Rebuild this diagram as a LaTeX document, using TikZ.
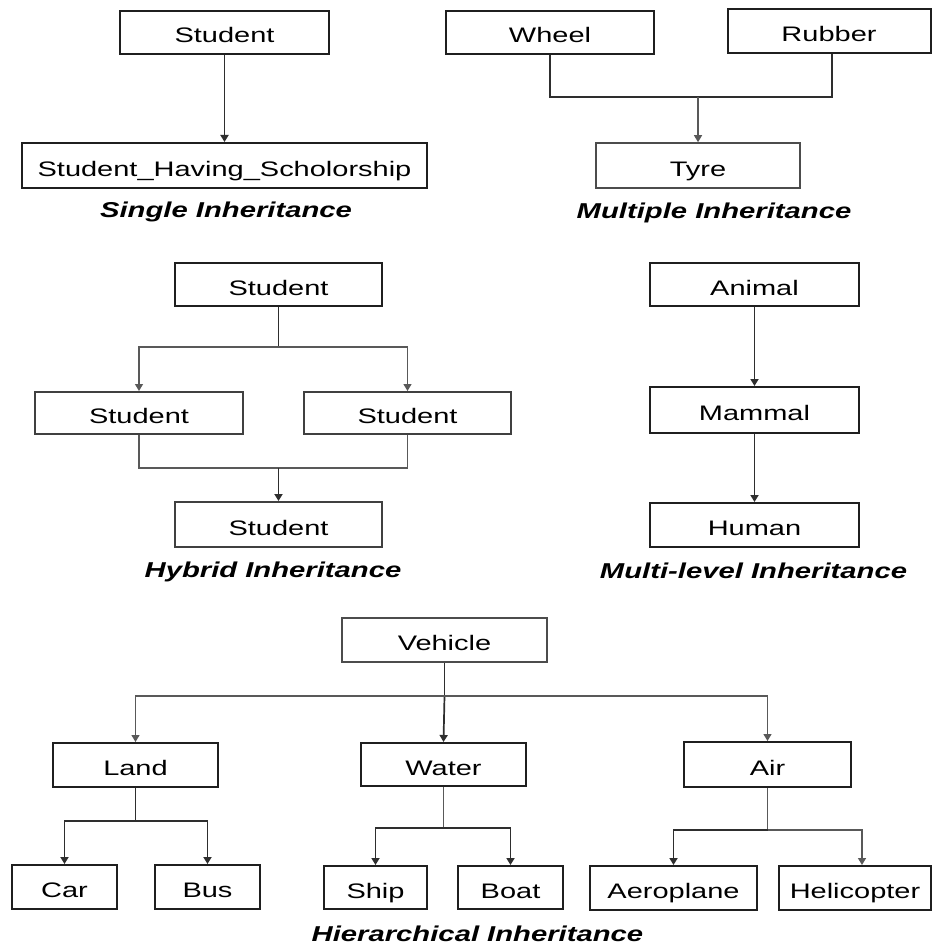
\documentclass[tikz,border=0pt]{standalone}
\usepackage{fontspec}
\usetikzlibrary{arrows.meta,calc}
\newfontfamily\boxfont[FakeStretch=1.38]{Liberation Sans}
\newfontfamily\capfont[FakeStretch=1.36,BoldItalicFont={Liberation Sans Bold Italic}]{Liberation Sans}
\begin{document}
\begin{tikzpicture}[x=1pt,y=-1pt,
  cls/.style={draw=black!88,line width=2pt,inner sep=0pt,
    minimum height=44pt,text height=21pt,text depth=0pt,
    font=\boxfont\fontsize{21}{24}\selectfont},
  caption/.style={anchor=base,inner sep=0pt,
    font=\capfont\fontsize{21.5}{24}\selectfont\bfseries\itshape},
  link/.style={draw=black!82,line width=1.7pt},
  thin link/.style={draw=black!65,line width=1.3pt},
  arr/.style={-{Triangle[width=8pt,length=7pt]}}]
\useasboundingbox (0,0) rectangle (932,944);
\fill[white] (0,0) rectangle (932,944);

% --- single inheritance
\node[cls,minimum width=209pt,minimum height=43pt] (sBase) at (224.5,32.5) {Student};
\node[cls,minimum width=405pt,minimum height=45pt] (sDer) at (224.5,165.5) {Student\_Having\_Scholorship};
\draw[link,arr] (sBase.south) -- (sDer.north);
\node[caption] (capSingle) at (226,217) {Single Inheritance};

% --- multiple inheritance
\node[cls,minimum width=208pt,minimum height=43pt] (wheel) at (550,32.5) {Wheel};
\node[cls,minimum width=203pt,minimum height=44pt] (rubber) at (829,31) {Rubber};
\node[cls,draw=black!70,line width=1.6pt,minimum width=204pt,minimum height=45pt] (tyre) at (698,165.5) {Tyre};
\coordinate (mJoin) at (698,97);
\draw[link] (wheel.south) |- (mJoin) -| ([xshift=3pt]rubber.south);
\draw[thin link,arr] (mJoin) -- (tyre.north);
\node[caption] (capMultiple) at (714,218) {Multiple Inheritance};

% --- hybrid inheritance
\node[cls,minimum width=207pt,minimum height=43pt] (hTop) at (278.5,284.5) {Student};
\node[cls,draw=black!75,minimum width=208pt,minimum height=42pt] (hLeft) at (139,413) {Student};
\node[cls,draw=black!75,minimum width=207pt,minimum height=42pt] (hRight) at (407.5,413) {Student};
\node[cls,draw=black!75,minimum width=207pt,minimum height=45pt] (hBottom) at (278.5,524.5) {Student};
\coordinate (hSplit) at (278.5,347);
\coordinate (hMerge) at (278.5,468);
\draw[link] (hTop.south) -- (hSplit);
\draw[thin link,arr] (hSplit) -| (hLeft.north);
\draw[thin link,arr] (hSplit) -| (hRight.north);
\draw[thin link] (hLeft.south) |- (hMerge) -| (hRight.south);
\draw[link,arr] (hMerge) -- (hBottom.north);
\node[caption] (capHybrid) at (273,577) {Hybrid Inheritance};

% --- multi-level inheritance
\node[cls,minimum width=209pt,minimum height=43pt] (animal) at (754.5,284.5) {Animal};
\node[cls,minimum width=209pt,minimum height=46pt] (mammal) at (754.5,410) {Mammal};
\node[cls,minimum width=209pt,minimum height=44pt] (human) at (754.5,525) {Human};
\draw[link,arr] (animal.south) -- (mammal.north);
\draw[link,arr] (mammal.south) -- (human.north);
\node[caption] (capMulti) at (753.5,578) {Multi-level Inheritance};

% --- hierarchical inheritance
\node[cls,draw=black!70,line width=1.6pt,minimum width=205pt,minimum height=44pt] (vehicle) at (444.5,640) {Vehicle};
\node[cls,minimum width=165pt,minimum height=44pt] (land) at (135.5,765) {Land};
\node[cls,minimum width=165pt,minimum height=43pt] (water) at (443.5,764.5) {Water};
\node[cls,minimum width=167pt,minimum height=45pt] (air) at (767.5,764.5) {Air};
\node[cls,minimum width=105pt,minimum height=44pt] (car) at (64.5,887) {Car};
\node[cls,minimum width=105pt,minimum height=44pt] (bus) at (207.5,887) {Bus};
\node[cls,minimum width=103pt,minimum height=43pt] (ship) at (375.5,887.5) {Ship};
\node[cls,minimum width=105pt,minimum height=43pt] (boat) at (510.5,887.5) {Boat};
\node[cls,minimum width=167pt,minimum height=44pt] (aero) at (673.5,888) {Aeroplane};
\node[cls,minimum width=152pt,minimum height=44pt] (heli) at (855,888) {Helicopter};

\coordinate (vJoin) at (444.5,696);
\draw[link] (vehicle.south) -- (vJoin);
\draw[link,arr] (vJoin) -- (water.north);
\draw[thin link,arr] (vJoin) -| (land.north);
\draw[thin link,arr] (vJoin) -| (air.north);

\coordinate (lJoin) at (135.5,821);
\draw[link] (land.south) -- (lJoin);
\draw[link,arr] (lJoin) -| (car.north);
\draw[link,arr] (lJoin) -| (bus.north);

\coordinate (wJoin) at (443.5,828);
\draw[thin link] (water.south) -- (wJoin);
\draw[link,arr] (wJoin) -| (ship.north);
\draw[link,arr] (wJoin) -| (boat.north);

\coordinate (aJoin) at (767.5,830);
\draw[thin link] (air.south) -- (aJoin);
\draw[link,arr] (aJoin) -| (aero.north);
\draw[thin link,arr] (aJoin) -| ([xshift=7pt]heli.north);

\node[caption] (capHier) at (477.5,941) {Hierarchical Inheritance};
\end{tikzpicture}
\end{document}
